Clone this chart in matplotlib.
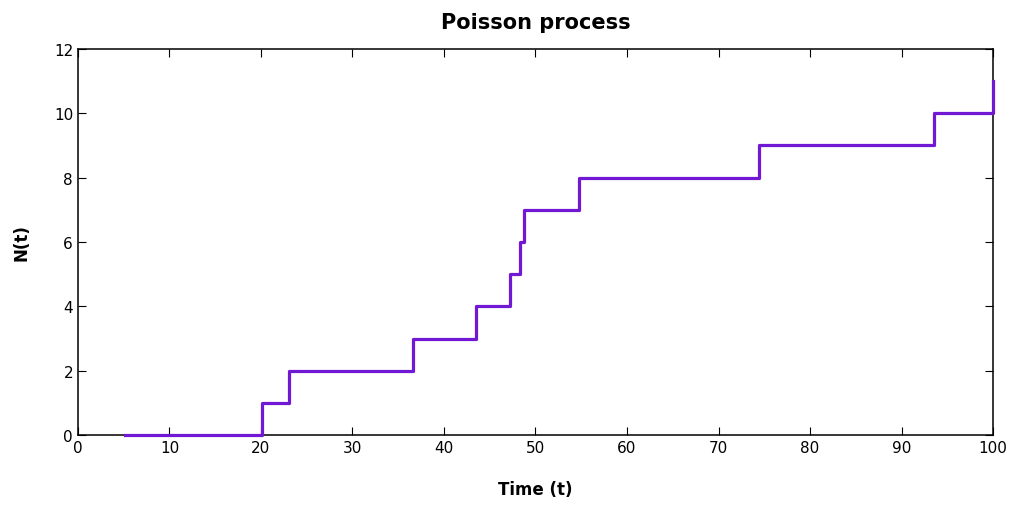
import matplotlib.pyplot as plt

# arrival times and counts
times = [5.1, 20.1, 23.1, 36.6, 43.5, 47.2, 48.3, 48.7, 54.8, 74.4, 93.6, 100]
counts = [0, 1, 2, 3, 4, 5, 6, 7, 8, 9, 10, 11]
xticks = [0, 10, 20, 30, 40, 50, 60, 70, 80, 90, 100]
yticks = [0, 2, 4, 6, 8, 10, 12]

fig = plt.figure(figsize=(10.14, 5.06), dpi=100)
ax = fig.add_axes([0.0769, 0.1383, 0.9024, 0.7629])

ax.step(times, counts, where="post", color="#7018d4", lw=2.3, clip_on=False, zorder=3)

ax.set_xlim(0, 100)
ax.set_ylim(0, 12)
ax.set_xticks(xticks)
ax.set_yticks(yticks)
ax.tick_params(direction="in", top=True, right=True, length=6, labelsize=11)
for s in ax.spines.values():
    s.set_linewidth(1.1)

ax.set_title("Poisson process", fontsize=15, fontweight="bold", pad=15)
ax.set_xlabel("Time (t)", fontsize=12, fontweight="bold", labelpad=18)
ax.set_ylabel("N(t)", fontsize=12, fontweight="bold", labelpad=17)

fig.savefig("out.png", dpi=100)
